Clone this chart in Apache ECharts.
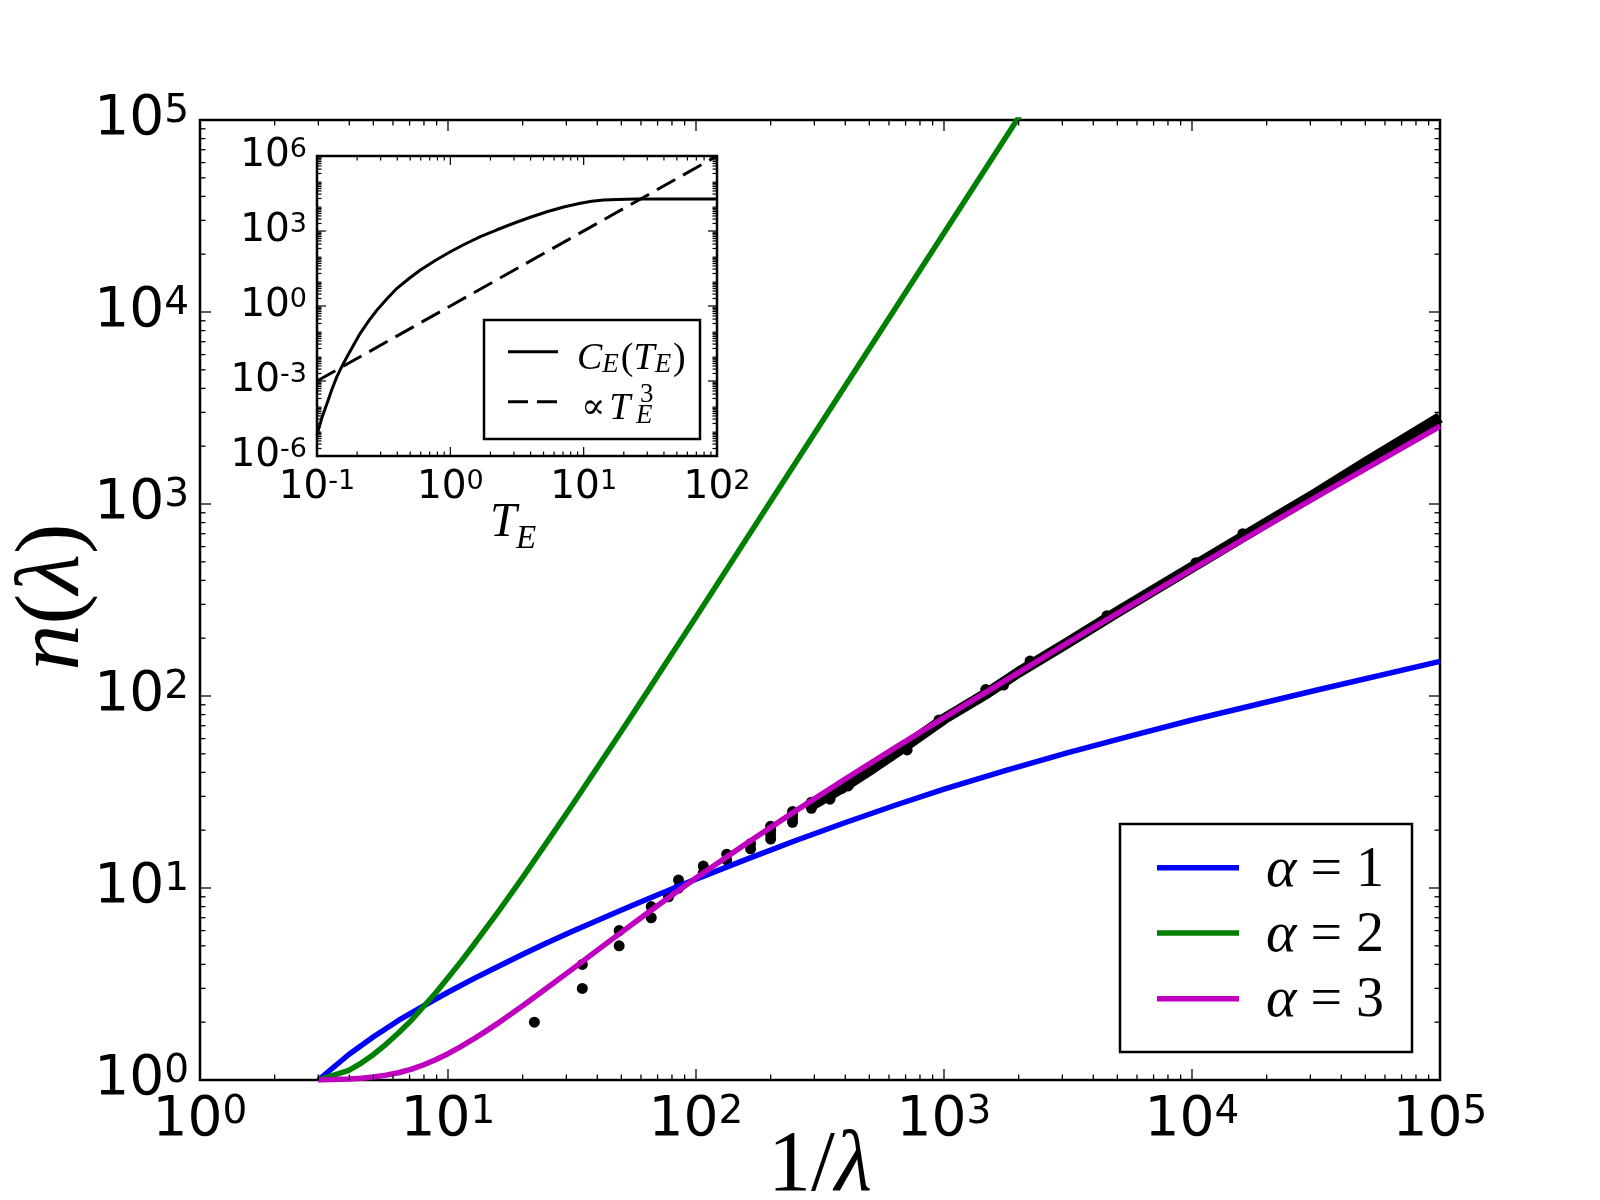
<!DOCTYPE html>
<html><head><meta charset="utf-8">
<script src="https://cdn.jsdelivr.net/npm/echarts@6/dist/echarts.min.js"></script>
<style>html,body{margin:0;padding:0;background:#fff}#c{width:1600px;height:1200px}</style>
</head><body><div id="c"></div>
<script>
// ---------------- data ----------------
const blueX = [3,3.98,5.01,6.31,7.94,10,12.59,15.85,19.95,25.1,31.6,39.8,50.1,63.1,79.4,100,158.5,251,398,631,1000,1778,3162,5623,10000,31623,100000];
const blueY = [1,1.358,1.679,2.042,2.427,2.864,3.35,3.89,4.50,5.19,5.94,6.76,7.68,8.71,9.86,11.12,14.06,17.62,21.88,26.9,32.7,41.0,50.7,61.8,75.0,107.2,151.4];
const greenX = [3,3.98,4.47,5.01,5.62,6.31,7.08,7.94,8.91,10,11.22,12.59,15.85,19.95,25.1,31.6,39.8,50.1,63.1,79.4,100,316,1000,2239];
const greenY = [1,1.122,1.225,1.358,1.535,1.758,2.032,2.399,2.838,3.41,4.10,4.99,7.45,11.3,17.38,26.9,42.0,65.8,103.5,163.3,258.2,2582,25820,129400];
const magentaX = [3,3.98,4.47,5.01,5.62,6.31,7.08,7.94,8.91,10,11.22,12.59,14.13,15.85,19.95,25.12,31.62,39.81,50.12,63.1,79.4,100,158.5,251.2,398.1,631,1000,3162,10000,31623,100000];
const magentaY = [1,1.012,1.022,1.036,1.060,1.091,1.137,1.197,1.276,1.371,1.489,1.626,1.786,1.972,2.43,3.02,3.77,4.72,5.89,7.34,9.11,11.26,16.97,25.15,36.87,53.5,77.2,189.5,457,1086,2541];
// measured points (sparse part)
const dataX = [22.3,34.8,34.8,49,49,66,66,77.5,85,85,107,107,133,133,166,166,200,200,200,200,245,245,245,245,292,292,292,347,347,347,387,411];
const dataY = [2,3,4,5,6,7,8,9,10,11,12,13,14,15,16,17,18,19,20,21,22,23,24,25,26,27,28,29,30,31,33,34];
// measured points (dense part, drawn as a band)
const bandX = [280,300,400,500,700,1000,1500,2000,3162,5000,10000,20000,31623,50000,100000];
const bandY = [26.5,27.5,34,41,55,76,104,133,190,274,468,800,1135,1640,2820];
const bumpX = [710,955,1473,1738,2223,4539,10375,16030];
const bumpY = [52.4,75,108,114,152,262,495,700];
// inset
const ceT = [0.1,0.109,0.119,0.1295,0.141,0.155,0.168,0.19,0.211,0.245,0.282,0.335,0.398,0.49,0.596,0.776,1.0,1.29,1.68,2.24,2.99,3.98,5.31,7.08,9.44,11.5,14.1,17.8,25.1,100];
const ceC = [7e-6,3.5e-5,1.3e-4,4.7e-4,1.5e-3,4.2e-3,9.3e-3,0.03,0.081,0.26,0.69,1.95,5.1,12.6,27.5,68,148,302,590,1120,2040,3550,5890,9120,12900,15500,17400,18400,19000,19000];
const cubeT = [0.1,100];
const cubeC = [1e-3,1e6];
// tick labels (exponents of 10)
const xTickExp = ['0','1','2','3','4','5'];
const yTickExp = ['0','1','2','3','4','5'];
const insetXTickExp = ['-1','0','1','2'];
const insetYTickExp = ['-6','-3','0','3','6'];

// ---------------- helpers ----------------
const zip = (a,b) => a.map((v,i)=>[v,b[i]]);
function decadeMinors(e0,e1){const r=[];for(let e=e0;e<e1;e++){for(let k=2;k<=9;k++)r.push(k*Math.pow(10,e));}return r;}
function decades(e0,e1,step){const r=[];for(let e=e0;e<=e1;e+=step)r.push(Math.pow(10,e));return r;}
function logFmt(arr){return v=>{const s=String(Math.round(Math.log10(v)));return arr.indexOf(s)>=0?'{b|10}{s|'+s+'}':'';};}
const SANS='DejaVu Sans', SERIF='Liberation Serif';
function richLab(fb,fs,lhs){return {b:{fontFamily:SANS,fontSize:fb,lineHeight:fb,color:'#000'},s:{fontFamily:SANS,fontSize:fs,lineHeight:lhs,verticalAlign:'top',color:'#000'}};}

function tickSeries(xi,yi,xr,yr,xMaj,xMin,yMaj,yMin,Lmaj,Lmin,lw){
  const data=[];
  xMaj.forEach(v=>data.push([v,yr[0],0]));
  xMin.forEach(v=>data.push([v,yr[0],1]));
  yMaj.forEach(v=>data.push([xr[0],v,2]));
  yMin.forEach(v=>data.push([xr[0],v,3]));
  return {type:'custom',xAxisIndex:xi,yAxisIndex:yi,silent:true,z:20,clip:false,data:data,
    renderItem:function(params,api){
      const cs=params.coordSys;const k=api.value(2);
      const p=api.coord([api.value(0),api.value(1)]);
      const st={stroke:'#000',lineWidth:lw};
      if(k<2){const L=k===0?Lmaj:Lmin;const b=cs.y+cs.height,t=cs.y;
        return {type:'group',children:[
          {type:'line',shape:{x1:p[0],y1:b,x2:p[0],y2:b-L},style:st},
          {type:'line',shape:{x1:p[0],y1:t,x2:p[0],y2:t+L},style:st}]};}
      const L=k===2?Lmaj:Lmin;const l=cs.x,r=cs.x+cs.width;
      return {type:'group',children:[
        {type:'line',shape:{x1:l,y1:p[1],x2:l+L,y2:p[1]},style:st},
        {type:'line',shape:{x1:r,y1:p[1],x2:r-L,y2:p[1]},style:st}]};
    }};
}
const hidden={axisLine:{show:false},axisTick:{show:false},splitLine:{show:false},minorTick:{show:false},minorSplitLine:{show:false}};

const chart=echarts.init(document.getElementById('c'),null,{renderer:'canvas'});
const lineS=(name,x,y,color,w,z,xi,yi,extra)=>Object.assign({type:'line',name:name,xAxisIndex:xi,yAxisIndex:yi,data:zip(x,y),
  showSymbol:false,symbol:'none',smooth:false,lineStyle:{color:color,width:w,join:'round'},itemStyle:{color:color},z:z,silent:true},extra||{});

const option={
  animation:false,
  backgroundColor:'#fff',
  grid:[
    {left:200,top:120,width:1240,height:960,show:true,borderColor:'#000',borderWidth:2.5,backgroundColor:'transparent'},
    {left:317,top:156,width:400,height:300,show:true,borderColor:'#000',borderWidth:2.5,backgroundColor:'#fff'}
  ],
  xAxis:[
    Object.assign({type:'log',logBase:10,gridIndex:0,min:1,max:100000,
      axisLabel:{formatter:logFmt(xTickExp),margin:13,rich:richLab(55,39,13)}},hidden),
    Object.assign({type:'log',logBase:10,gridIndex:1,min:0.1,max:100,
      axisLabel:{formatter:logFmt(insetXTickExp),margin:12,rich:richLab(39,27,9)}},hidden)
  ],
  yAxis:[
    Object.assign({type:'log',logBase:10,gridIndex:0,min:1,max:100000,
      axisLabel:{formatter:logFmt(yTickExp),margin:11,rich:richLab(55,39,13)}},hidden),
    Object.assign({type:'log',logBase:10,gridIndex:1,min:1e-6,max:1e6,axisLabel:{show:false}},hidden),
    Object.assign({type:'value',gridIndex:1,position:'left',min:-6,max:6,interval:3,
      axisLabel:{formatter:v=>insetYTickExp.indexOf(String(v))>=0?'{b|10}{s|'+v+'}':'',margin:10,rich:richLab(39,27,9)}},hidden)
  ],
  series:[
    lineS('data-band',bandX,bandY,'#000',11,2,0,0),
    {type:'scatter',name:'data',xAxisIndex:0,yAxisIndex:0,data:zip(dataX,dataY),symbolSize:11,itemStyle:{color:'#000',opacity:1},z:3,silent:true},
    {type:'scatter',name:'data2',xAxisIndex:0,yAxisIndex:0,data:zip(bumpX,bumpY),symbolSize:11,itemStyle:{color:'#000',opacity:1},z:3,silent:true},
    lineS('α = 1',blueX,blueY,'#0000ff',5.5,5,0,0),
    lineS('α = 2',greenX,greenY,'#008000',5.5,5,0,0),
    lineS('α = 3',magentaX,magentaY,'#bf00bf',5.5,6,0,0),
    lineS('C_E',ceT,ceC,'#000',3,5,1,1),
    lineS('T3',cubeT,cubeC,'#000',3,5,1,1,{lineStyle:{color:'#000',width:3,type:[21,9]}}),
    tickSeries(0,0,[1,100000],[1,100000],decades(0,5,1),decadeMinors(0,5),decades(0,5,1),decadeMinors(0,5),11,5.5,1.3),
    tickSeries(1,1,[0.1,100],[1e-6,1e6],decades(-1,2,1),decadeMinors(-1,2),decades(-6,6,3),decadeMinors(-6,6),9,4.5,1.2)
  ],
  graphic:[
    // main legend
    {type:'rect',z:100,shape:{x:1120,y:824,width:292,height:228},style:{fill:'#fff',stroke:'#000',lineWidth:2.5}},
    {type:'line',z:101,shape:{x1:1157,y1:867.7,x2:1239,y2:867.7},style:{stroke:'#0000ff',lineWidth:5.5}},
    {type:'line',z:101,shape:{x1:1157,y1:933,x2:1239,y2:933},style:{stroke:'#008000',lineWidth:5.5}},
    {type:'line',z:101,shape:{x1:1157,y1:998.7,x2:1239,y2:998.7},style:{stroke:'#bf00bf',lineWidth:5.5}},
    {type:'text',z:101,x:1266,y:871,style:{text:'{a|α}{r| = 1}',align:'left',verticalAlign:'middle',rich:{a:{fontFamily:SERIF,fontStyle:'italic',fontSize:58,fill:'#000'},r:{fontFamily:SERIF,fontSize:56,fill:'#000'}}}},
    {type:'text',z:101,x:1266,y:936,style:{text:'{a|α}{r| = 2}',align:'left',verticalAlign:'middle',rich:{a:{fontFamily:SERIF,fontStyle:'italic',fontSize:58,fill:'#000'},r:{fontFamily:SERIF,fontSize:56,fill:'#000'}}}},
    {type:'text',z:101,x:1266,y:1001,style:{text:'{a|α}{r| = 3}',align:'left',verticalAlign:'middle',rich:{a:{fontFamily:SERIF,fontStyle:'italic',fontSize:58,fill:'#000'},r:{fontFamily:SERIF,fontSize:56,fill:'#000'}}}},
    // inset legend
    {type:'rect',z:100,shape:{x:484,y:320,width:216,height:119},style:{fill:'#fff',stroke:'#000',lineWidth:2.5}},
    {type:'line',z:101,shape:{x1:508,y1:351.7,x2:558,y2:351.7},style:{stroke:'#000',lineWidth:3}},
    {type:'line',z:101,shape:{x1:508,y1:401.7,x2:558,y2:401.7},style:{stroke:'#000',lineWidth:3,lineDash:[20,9]}},
    {type:'text',z:101,x:577,y:359,style:{text:'{i|C}{sb|E}{r|(}{i|T}{sb|E}{r|)}',align:'left',verticalAlign:'middle',
      rich:{i:{fontFamily:SERIF,fontStyle:'italic',fontSize:38,lineHeight:38,fill:'#000'},r:{fontFamily:SERIF,fontSize:38,lineHeight:38,fill:'#000'},
            sb:{fontFamily:SERIF,fontStyle:'italic',fontSize:27,lineHeight:22,verticalAlign:'bottom',fill:'#000',padding:[0,2,0,0]}}}},
    {type:'text',z:101,x:581,y:409,style:{text:'{r|∝}{i|T}',align:'left',verticalAlign:'middle',
      rich:{i:{fontFamily:SERIF,fontStyle:'italic',fontSize:38,fill:'#000'},r:{fontFamily:'DejaVu Serif',fontSize:36,fill:'#000',padding:[0,4,0,0]}}}},
    {type:'text',z:101,x:636,y:416,style:{text:'E',font:'italic 27px "Liberation Serif"',fill:'#000',align:'left',verticalAlign:'middle'}},
    {type:'text',z:101,x:640,y:395,style:{text:'3',font:'27px "Liberation Serif"',fill:'#000',align:'left',verticalAlign:'middle'}},
    // inset x label
    {type:'text',z:101,x:490,y:523,style:{text:'T',font:'italic 48px "Liberation Serif"',fill:'#000',align:'left',verticalAlign:'middle'}},
    {type:'text',z:101,x:516,y:539,style:{text:'E',font:'italic 33px "Liberation Serif"',fill:'#000',align:'left',verticalAlign:'middle'}},
    // main axis labels
    {type:'text',z:101,x:820,y:1167,style:{text:'{r|1/}{i|λ}',align:'center',verticalAlign:'middle',
      rich:{r:{fontFamily:SERIF,fontSize:86,fill:'#000'},i:{fontFamily:SERIF,fontStyle:'italic',fontSize:86,fill:'#000'}}}},
    {type:'text',z:101,x:54,y:597,rotation:Math.PI/2,style:{text:'{i|n}{r|(}{i|λ}{r|)}',align:'center',verticalAlign:'middle',
      rich:{r:{fontFamily:SERIF,fontSize:92,fill:'#000'},i:{fontFamily:SERIF,fontStyle:'italic',fontSize:92,fill:'#000'}}}}
  ]
};
chart.setOption(option);
</script></body></html>
